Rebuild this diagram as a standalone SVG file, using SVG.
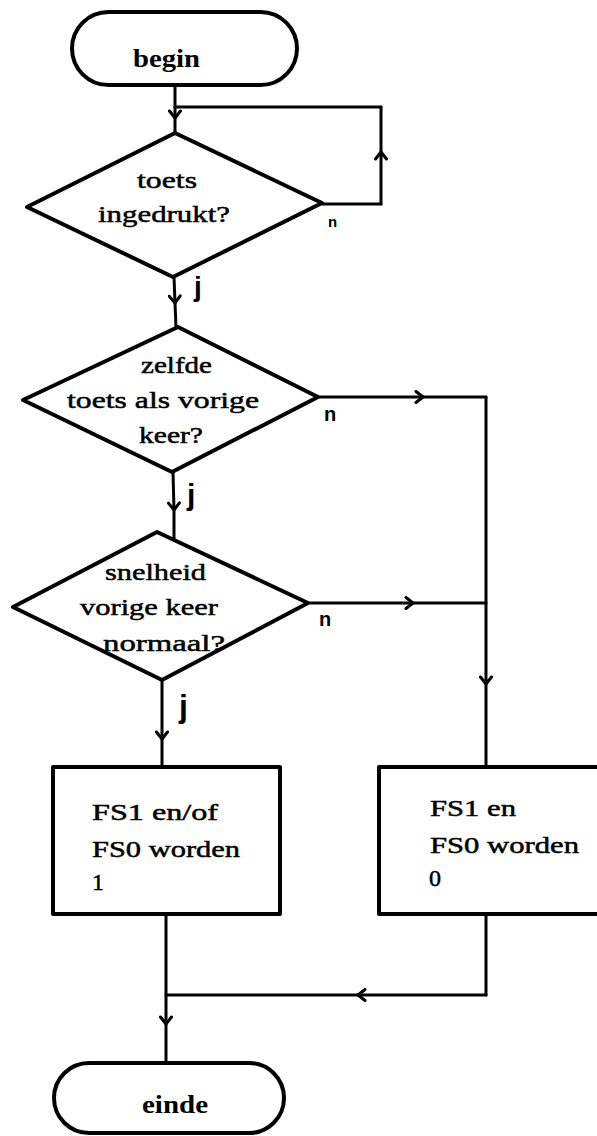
<svg xmlns="http://www.w3.org/2000/svg" width="597" height="1136" viewBox="0 0 597 1136">
<style>
  .shape { fill: #fff; stroke: #000; stroke-width: 4; stroke-linejoin: round; }
  .conn { fill: none; stroke: #000; stroke-width: 3; stroke-linecap: round; stroke-linejoin: round; }
  .arr { marker-mid: url(#chev); }
  .t { font-family: "Liberation Serif", "Times New Roman", serif; font-size: 24px; fill: #000; stroke: #000; stroke-width: 0.5; }
  .tb { font-family: "Liberation Serif", "Times New Roman", serif; font-size: 25px; font-weight: bold; fill: #000; }
  .lbl { font-family: "Liberation Sans", Arial, sans-serif; font-weight: bold; fill: #000; }
</style>
<defs>
  <marker id="chev" viewBox="-9 -7 11 14" refX="0" refY="0" markerWidth="11" markerHeight="14" markerUnits="userSpaceOnUse" orient="auto">
    <path d="M -7 -5.5 L 0 0 L -7 5.5" fill="none" stroke="#000" stroke-width="3" stroke-linecap="round" stroke-linejoin="round"/>
  </marker>
</defs>
<rect width="597" height="1136" fill="#fff"/>

<g id="connectors">
  <path class="conn arr" d="M175 85 L175 118 L175 133"/>
  <path class="conn" d="M322 204 L381 204"/>
  <path class="conn arr" d="M381 204 L381 152 L381 107"/>
  <path class="conn" d="M381 107 L175 107"/>
  <path class="conn arr" d="M174 277 L175 303 L176 327"/>
  <path class="conn arr" d="M173 472 L174 510 L174 540"/>
  <path class="conn arr" d="M162 680 L162 739 L162 767"/>
  <path class="conn arr" d="M318 397 L423 397 L486 397"/>
  <path class="conn arr" d="M308 603 L413 603 L486 603"/>
  <path class="conn arr" d="M486 397 L486 684 L486 767"/>
  <path class="conn" d="M486 915 L486 995"/>
  <path class="conn arr" d="M486 995 L358 995 L166 995"/>
  <path class="conn arr" d="M166 915 L166 1024 L166 1063"/>
  <text class="lbl" x="328" y="227" font-size="15">n</text>
  <text class="lbl" x="194" y="296" font-size="28">j</text>
  <text class="lbl" x="324" y="421" font-size="20">n</text>
  <text class="lbl" x="187" y="505" font-size="30">j</text>
  <text class="lbl" x="319" y="626" font-size="20">n</text>
  <text class="lbl" x="179" y="717" font-size="32">j</text>
</g>

<g id="begin">
  <rect class="shape" x="72" y="12" width="225" height="73" rx="36.5"/>
  <text class="tb" x="166.5" y="67" text-anchor="middle" textLength="67" lengthAdjust="spacingAndGlyphs">begin</text>
</g>

<g id="toets-ingedrukt">
  <polygon class="shape" points="175,133 322,203 173,277 27,207"/>
  <text class="t" x="137" y="188" textLength="60" lengthAdjust="spacingAndGlyphs">toets</text>
  <text class="t" x="98" y="222" textLength="132" lengthAdjust="spacingAndGlyphs">ingedrukt?</text>
</g>

<g id="zelfde-toets">
  <polygon class="shape" points="178,327 318,397 172,472 23,400"/>
  <text class="t" x="141" y="373" textLength="71" lengthAdjust="spacingAndGlyphs">zelfde</text>
  <text class="t" x="67" y="408" textLength="192" lengthAdjust="spacingAndGlyphs">toets als vorige</text>
  <text class="t" x="139" y="443" textLength="64" lengthAdjust="spacingAndGlyphs">keer?</text>
</g>

<g id="snelheid">
  <polygon class="shape" points="157,532 308,603 162,680 13,607"/>
  <text class="t" x="105" y="580" textLength="101" lengthAdjust="spacingAndGlyphs">snelheid</text>
  <text class="t" x="80" y="615" textLength="138" lengthAdjust="spacingAndGlyphs">vorige keer</text>
  <text class="t" x="103" y="651" textLength="122" lengthAdjust="spacingAndGlyphs">normaal?</text>
</g>

<g id="fs-een">
  <rect class="shape" x="53" y="767" width="227" height="147"/>
  <text class="t" x="92" y="820" textLength="126" lengthAdjust="spacingAndGlyphs">FS1 en/of</text>
  <text class="t" x="92" y="857" textLength="148" lengthAdjust="spacingAndGlyphs">FS0 worden</text>
  <text class="t" x="92" y="890">1</text>
</g>

<g id="fs-nul">
  <rect class="shape" x="379" y="767" width="235" height="147"/>
  <text class="t" x="430" y="816" textLength="86" lengthAdjust="spacingAndGlyphs">FS1 en</text>
  <text class="t" x="430" y="853" textLength="149" lengthAdjust="spacingAndGlyphs">FS0 worden</text>
  <text class="t" x="429" y="886">0</text>
</g>

<g id="einde">
  <rect class="shape" x="54" y="1063" width="230" height="70" rx="35"/>
  <text class="tb" x="175" y="1113" text-anchor="middle" textLength="66" lengthAdjust="spacingAndGlyphs">einde</text>
</g>
</svg>
